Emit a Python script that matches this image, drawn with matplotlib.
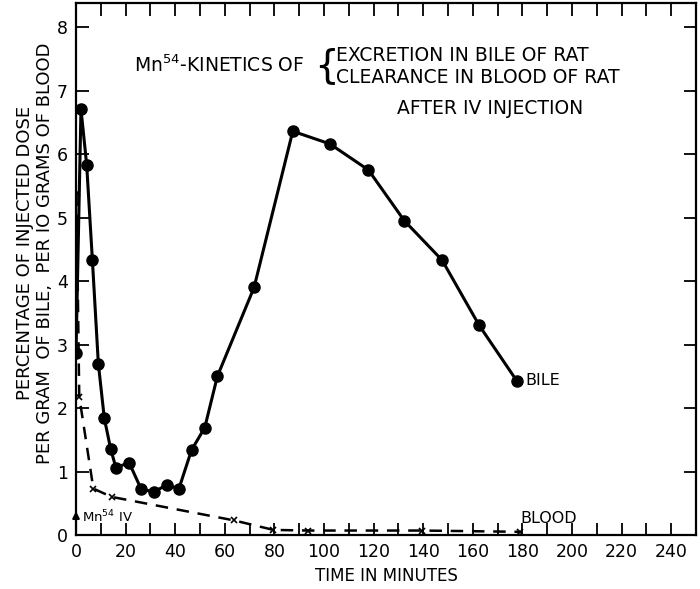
import matplotlib
matplotlib.use('Agg')
import matplotlib.pyplot as plt
import numpy as np

# Bile excretion (% of injected dose per gram of bile)
bile_t = [0, 2, 4.3, 6.6, 9, 11.4, 14, 16.1, 21.4, 26.3, 31.5, 36.6, 41.5,
          46.6, 51.9, 57, 71.8, 87.4, 102.4, 117.9, 132.4, 147.6, 162.6, 177.7]
bile_y = [2.87, 6.71, 5.83, 4.33, 2.70, 1.84, 1.35, 1.06, 1.14, 0.72, 0.68, 0.79, 0.73,
          1.34, 1.69, 2.50, 3.90, 6.36, 6.16, 5.75, 4.95, 4.33, 3.30, 2.43]

# Blood clearance (% of injected dose per 10 g of blood)
blood_t = [0.2, 1.3, 7, 14.4, 63.7, 79.6, 93.7, 139.4, 179]
blood_y = [5.38, 2.18, 0.73, 0.60, 0.23, 0.08, 0.07, 0.07, 0.05]

x_ticks = list(range(0, 241, 20))
y_ticks = list(range(0, 9))

fig = plt.figure(figsize=(7, 5.89), dpi=100)
ax = fig.add_axes([0.1086, 0.0917, 0.8857, 0.9032])

ax.plot(bile_t, bile_y, color='black', lw=2.2, marker='o', ms=8, zorder=3)
ax.plot(blood_t, blood_y, color='black', lw=1.8, ls=(0, (5, 3.5)),
        marker='x', ms=4, mew=1.2, zorder=2)

ax.set_xlim(0, 250)
ax.set_ylim(0, 8.38)
ax.set_xticks(x_ticks)
ax.set_xticks(range(0, 250, 10), minor=True)
ax.set_yticks(y_ticks)
ax.tick_params(axis='both', which='both', direction='in', top=True, right=True,
               width=1.3, labelsize=12.5, pad=6)
ax.tick_params(axis='both', which='major', length=9)
ax.tick_params(axis='x', which='minor', length=9)
for s in ax.spines.values():
    s.set_linewidth(1.6)

ax.set_xlabel('TIME IN MINUTES', fontsize=12, labelpad=4)
ax.set_ylabel('PERCENTAGE OF INJECTED DOSE\nPER GRAM  OF BILE,  PER IO GRAMS OF BLOOD',
              fontsize=13, linespacing=1.2)
ax.yaxis.set_label_coords(-0.035, 0.53)

# title block
ax.text(23.5, 7.4, 'Mn$^{54}$-KINETICS OF', fontsize=13.5, va='center', ha='left')
ax.text(101, 7.38, '{', fontsize=28, va='center', ha='center')
ax.text(104.8, 7.56, 'EXCRETION IN BILE OF RAT', fontsize=13.5, va='center', ha='left')
ax.text(104.8, 7.20, 'CLEARANCE IN BLOOD OF RAT', fontsize=13.5, va='center', ha='left')
ax.text(129.4, 6.72, 'AFTER IV INJECTION', fontsize=13.5, va='center', ha='left')

ax.text(181, 2.43, 'BILE', fontsize=11.5, va='center', ha='left')
ax.text(179, 0.26, 'BLOOD', fontsize=11.5, va='center', ha='left')

# injection arrow
ax.annotate('', xy=(0, 0.42), xytext=(0, 0), xycoords='data',
            arrowprops=dict(arrowstyle='-|>', color='black', lw=1.5, mutation_scale=10))
ax.text(2.5, 0.28, 'Mn$^{54}$ IV', fontsize=9.5, va='center', ha='left')

fig.savefig('out.png', dpi=100)
